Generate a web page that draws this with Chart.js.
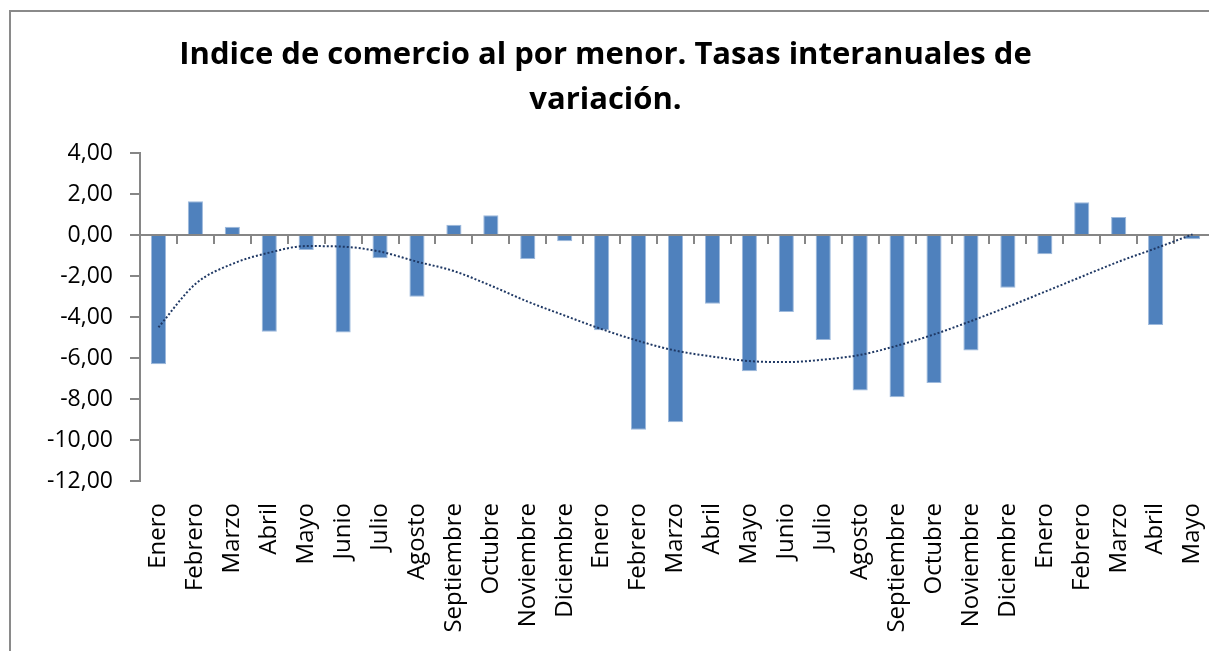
<!DOCTYPE html>
<html>
<head>
<meta charset="utf-8">
<script src="https://cdn.jsdelivr.net/npm/chart.js@4.4.1/dist/chart.umd.min.js"></script>
<style>
  html, body { margin: 0; padding: 0; background: #ffffff; overflow: hidden; width: 1209px; height: 651px; }
  #frame { position: absolute; left: 9px; top: 10px; width: 1300px; height: 700px;
           border-left: 2px solid #8a8a8a; border-top: 2px solid #8a8a8a; }
  #c { position: absolute; left: 0; top: 0; }
</style>
</head>
<body>
<div id="frame"></div>
<canvas id="c" width="1212" height="651"></canvas>
<script>
const categories = ["Enero","Febrero","Marzo","Abril","Mayo","Junio","Julio","Agosto","Septiembre","Octubre","Noviembre","Diciembre",
                    "Enero","Febrero","Marzo","Abril","Mayo","Junio","Julio","Agosto","Septiembre","Octubre","Noviembre","Diciembre",
                    "Enero","Febrero","Marzo","Abril","Mayo"];
const tasas = [-6.30, 1.65, 0.40, -4.72, -0.73, -4.75, -1.14, -3.01, 0.50, 0.96, -1.17, -0.31,
               -4.65, -9.50, -9.14, -3.35, -6.65, -3.76, -5.12, -7.59, -7.92, -7.22, -5.63, -2.57,
               -0.94, 1.60, 0.88, -4.39, -0.21];
const tendencia = [-4.50, -2.39, -1.41, -0.86, -0.54, -0.57, -0.81, -1.30, -1.76, -2.47, -3.25, -3.93,
                   -4.59, -5.17, -5.64, -5.93, -6.15, -6.20, -6.08, -5.85, -5.40, -4.85, -4.20, -3.50,
                   -2.77, -2.03, -1.30, -0.65, 0.03];
const yTicks = [4, 2, 0, -2, -4, -6, -8, -10, -12];
const titleLines = ["Indice de comercio al por menor. Tasas interanuales de", "variación."];

const FONT = "'Open Sans', 'Noto Sans', sans-serif";
const GRAY = '#868686';

new Chart(document.getElementById('c'), {
  data: {
    labels: categories,
    datasets: [
      {
        type: 'line',
        data: tendencia,
        xAxisID: 'x',
        yAxisID: 'y',
        borderColor: '#1F3864',
        borderWidth: 2,
        borderDash: [2, 2],
        pointRadius: 0,
        cubicInterpolationMode: 'monotone',
        fill: false,
        order: 0
      },
      {
        type: 'bar',
        data: tasas,
        xAxisID: 'x',
        yAxisID: 'y',
        backgroundColor: '#4F81BD',
        borderColor: '#9DB9DC',
        borderWidth: 1,
        categoryPercentage: 1.0,
        barPercentage: 0.41,
        order: 1
      }
    ]
  },
  options: {
    responsive: false,
    animation: false,
    devicePixelRatio: 1,
    layout: { padding: { left: 0, right: 1, top: 0, bottom: 0 } },
    plugins: {
      legend: { display: false },
      tooltip: { enabled: false },
      title: {
        display: true,
        text: titleLines,
        color: '#000000',
        font: { family: FONT, size: 31, weight: 'bold', lineHeight: 45 / 31 },
        padding: { top: 33, bottom: 30 }
      }
    },
    scales: {
      x: {
        type: 'category',
        position: { y: 0 },
        offset: true,
        grid: { offset: true, drawOnChartArea: false, drawTicks: true, tickLength: 8, color: GRAY, lineWidth: 2 },
        border: { display: true, color: GRAY, width: 2 },
        ticks: { display: false }
      },
      x2: {
        type: 'category',
        position: 'bottom',
        labels: categories,
        offset: true,
        grid: { display: false, offset: true, drawTicks: false },
        border: { display: false },
        ticks: {
          autoSkip: false, maxRotation: 90, minRotation: 90, padding: 22,
          color: '#000000', font: { family: FONT, size: 24 }
        },
        afterFit: (s) => { s.height = 170; s.paddingLeft = 0; s.paddingRight = 0; }
      },
      y: {
        type: 'linear',
        position: 'left',
        min: -12,
        max: 4,
        afterBuildTicks: (s) => { s.ticks = yTicks.map(v => ({ value: v })); },
        grid: { drawOnChartArea: false, drawTicks: true, tickLength: 10, color: GRAY, lineWidth: 2 },
        border: { display: true, color: GRAY, width: 2 },
        ticks: {
          padding: 17,
          color: '#000000',
          font: { family: FONT, size: 23 },
          callback: (v) => v.toFixed(2).replace('.', ',')
        },
        afterFit: (s) => { s.width = 140; }
      }
    }
  }
});
</script>
</body>
</html>
